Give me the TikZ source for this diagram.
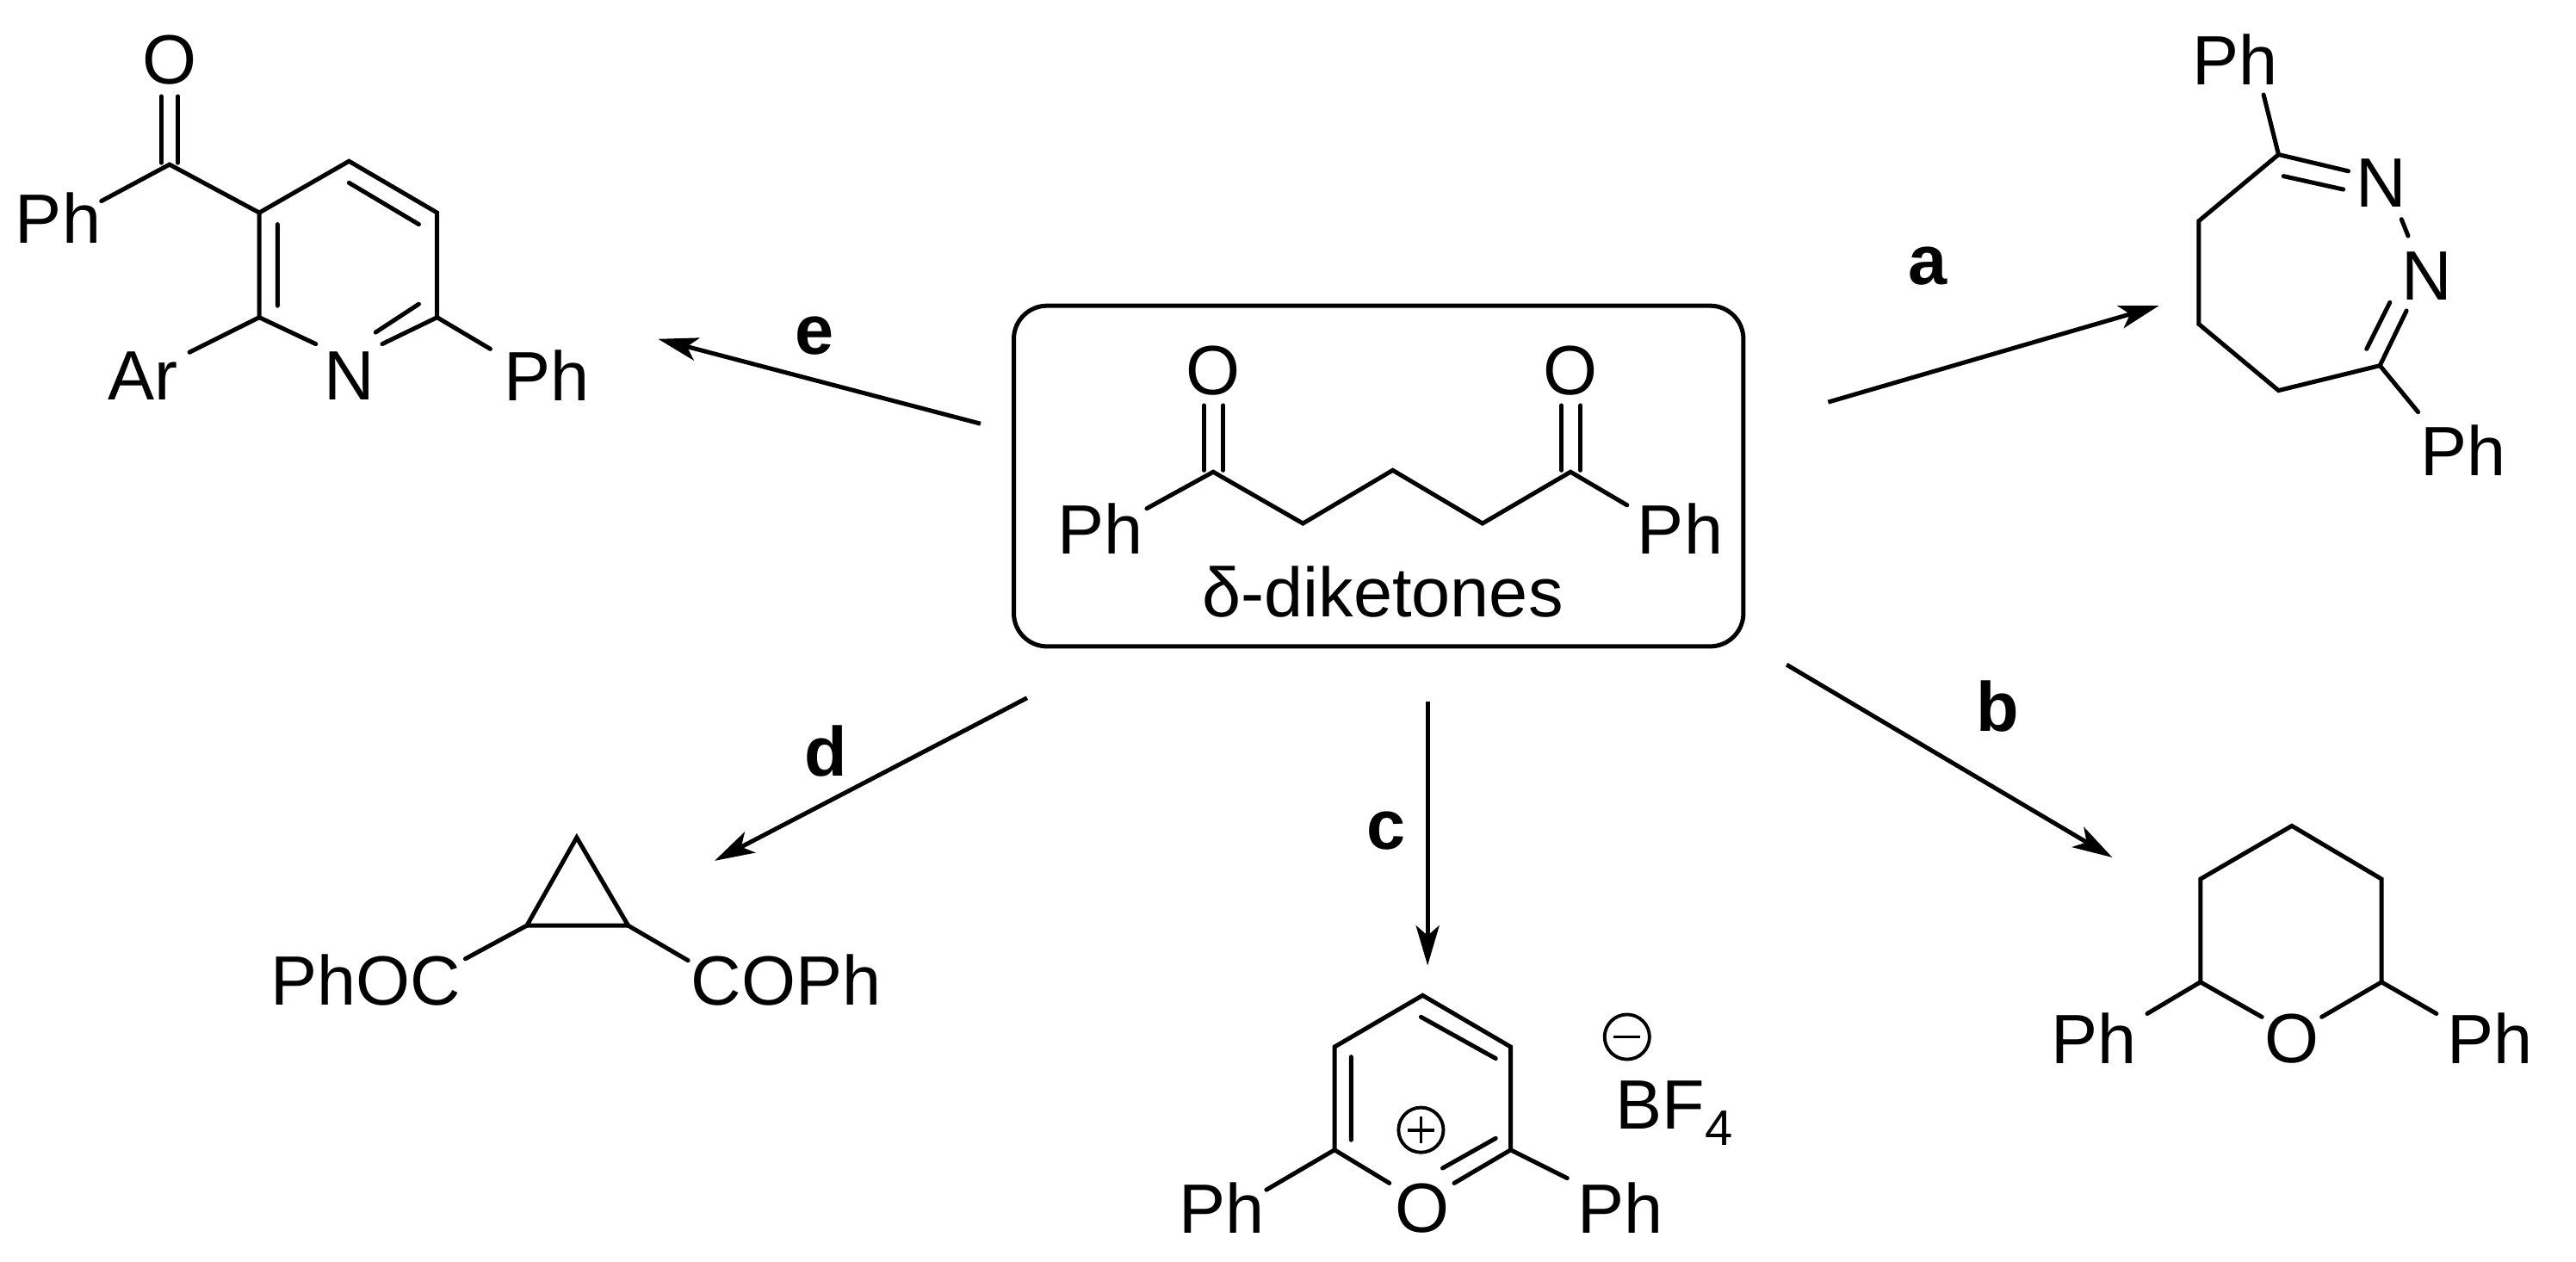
\documentclass[tikz,border=0pt]{standalone}
\usepackage{fontspec}
\setmainfont{Liberation Sans}
\usetikzlibrary{arrows.meta}
\begin{document}
\begin{tikzpicture}[x=1pt,y=-1pt,
  bond/.style={line width=2.6pt,line cap=round,line join=miter},
  rxn/.style={line width=2.6pt,-{Stealth[length=24pt,width=14pt,inset=6pt]}},
  lab/.style={font=\fontsize{42}{42}\selectfont,inner sep=0pt},
  rlab/.style={font=\fontsize{42}{42}\selectfont\bfseries,inner sep=0pt},
  chg/.style={circle,draw,line width=2pt,minimum size=27pt,inner sep=0pt}]
\useasboundingbox (0,0) rectangle (1550,759);
% ---------- central box: delta-diketone
\draw[line width=2.6pt,rounded corners=20pt] (610,184) rectangle (1049,389);
\node[lab] (dkO1) at (730,223) {O};
\node[lab] (dkO2) at (945,223) {O};
\node[lab] (dkPh1) at (662,318) {Ph};
\node[lab] (dkPh2) at (1011,318) {Ph};
\node[lab] (dkname) at (832,356) {δ-diketones};
\coordinate (k1) at (730,284);\coordinate (k2) at (784,315);\coordinate (k3) at (838,283);
\coordinate (k4) at (892,315);\coordinate (k5) at (945,284);
\draw[bond] (690,306) -- (k1) -- (k2) -- (k3) -- (k4) -- (k5) -- (979,304);
\draw[bond] (724.5,244) -- (724.5,283) (736,244) -- (736,283);
\draw[bond] (939.5,244) -- (939.5,283) (951,244) -- (951,283);
% ---------- pyridine (e)
\node[lab] (pyO) at (102,36) {O};
\node[lab] (pyPh1) at (35,131) {Ph};
\node[lab] (pyAr) at (86,226) {Ar};
\node[lab] (pyN) at (210,226) {N};
\node[lab] (pyPh2) at (329,226) {Ph};
\coordinate (pc) at (102,99);\coordinate (p3) at (156,128);\coordinate (p4) at (210,97);
\coordinate (p5) at (263,128);\coordinate (p6) at (263,191);\coordinate (p2) at (156,191);
\draw[bond] (61,121) -- (pc) -- (p3) -- (p4) -- (p5) -- (p6) -- (230,207);
\draw[bond] (p3) -- (p2) -- (190,207);
\draw[bond] (p2) -- (114,212) (p6) -- (295,210);
\draw[bond] (97,58) -- (97,98) (107,58) -- (107,98);
\draw[bond] (167,135) -- (167,184) (210,110) -- (252,135) (252,183) -- (226,200);
% ---------- diazepine (a)
\node[lab] (dzPh1) at (1345,36) {Ph};
\node[lab] (dzN1) at (1433,110) {N};
\node[lab] (dzN2) at (1460,166) {N};
\node[lab] (dzPh2) at (1482,271) {Ph};
\coordinate (z1) at (1371,93);\coordinate (z2) at (1432,220);\coordinate (z3) at (1371,235);
\coordinate (z4) at (1323,195);\coordinate (z5) at (1323,133);
\draw[bond] (1362,57) -- (z1) -- (1413,103);
\draw[bond] (1374,106) -- (1410,114);
\draw[bond] (1445,132) -- (1449,142);
\draw[bond] (1448,187) -- (z2) -- (1455,248);
\draw[bond] (1438,182) -- (1424,210);
\draw[bond] (z2) -- (z3) -- (z4) -- (z5) -- (z1);
% ---------- tetrahydropyran (b)
\node[lab] (thO) at (1379,625) {O};
\node[lab] (thPh1) at (1260,625) {Ph};
\node[lab] (thPh2) at (1498,625) {Ph};
\coordinate (t1) at (1379,497);\coordinate (t2) at (1324,529);\coordinate (t3) at (1324,591);
\coordinate (t4) at (1433,529);\coordinate (t5) at (1433,591);
\draw[bond] (1361,612) -- (t3) -- (t2) -- (t1) -- (t4) -- (t5) -- (1397,612);
\draw[bond] (t3) -- (1292,610) (t5) -- (1466,610);
% ---------- pyrylium (c)
\node[lab] (pyrO) at (856,727) {O};
\node[lab] (pyrPh1) at (735,727) {Ph};
\node[lab] (pyrPh2) at (975,727) {Ph};
\node[chg] (plus) at (855,680) {};
\draw[line width=2pt] ([xshift=-8pt]plus.center) -- ([xshift=8pt]plus.center) ([yshift=-8pt]plus.center) -- ([yshift=8pt]plus.center);
\node[chg] (minus) at (979,624) {};
\draw[line width=2pt] ([xshift=-8pt]minus.center) -- ([xshift=8pt]minus.center);
\node[lab,anchor=west] (bf) at (972,670) {BF\raisebox{-10pt}{\fontsize{30}{30}\selectfont 4}};
\coordinate (y4) at (856,599);\coordinate (y3) at (803,630);\coordinate (y2) at (803,692);
\coordinate (y5) at (909,630);\coordinate (y6) at (909,692);
\draw[bond] (836,712) -- (y2) -- (y3) -- (y4) -- (y5) -- (y6) -- (875,712);
\draw[bond] (y2) -- (762,716) (y6) -- (943,709);
\draw[bond] (813,636) -- (813,686) (855,612) -- (900,637) (900,685) -- (868,703);
% ---------- cyclopropane (d)
\node[lab] (cpL) at (220,590) {PhOC};
\node[lab] (cpR) at (473,590) {COPh};
\coordinate (c1) at (347,504);\coordinate (c2) at (317,557);\coordinate (c3) at (378,557);
\draw[bond] (c1) -- (c2) -- (c3) -- cycle;
\draw[bond] (c2) -- (280,577) (c3) -- (414,578);
% ---------- reaction arrows
\coordinate (ea) at (590,255);\coordinate (eb) at (396,204);
\coordinate (aa) at (1100,242);\coordinate (ab) at (1299,184);
\coordinate (ba) at (1075,400);\coordinate (bb) at (1271,516);
\coordinate (ca) at (859,422);\coordinate (cb) at (859,581);
\coordinate (da) at (618,420);\coordinate (db) at (430,518);
\draw[rxn] (ea) -- (eb);
\draw[rxn] (aa) -- (ab);
\draw[rxn] (ba) -- (bb);
\draw[rxn] (ca) -- (cb);
\draw[rxn] (da) -- (db);
\node[rlab] (le) at (490,202) {e};
\node[rlab] (la) at (1160,160) {a};
\node[rlab] (lb) at (1202,425) {b};
\node[rlab] (lc) at (834,500) {c};
\node[rlab] (ld) at (497,452) {d};
\end{tikzpicture}
\end{document}
